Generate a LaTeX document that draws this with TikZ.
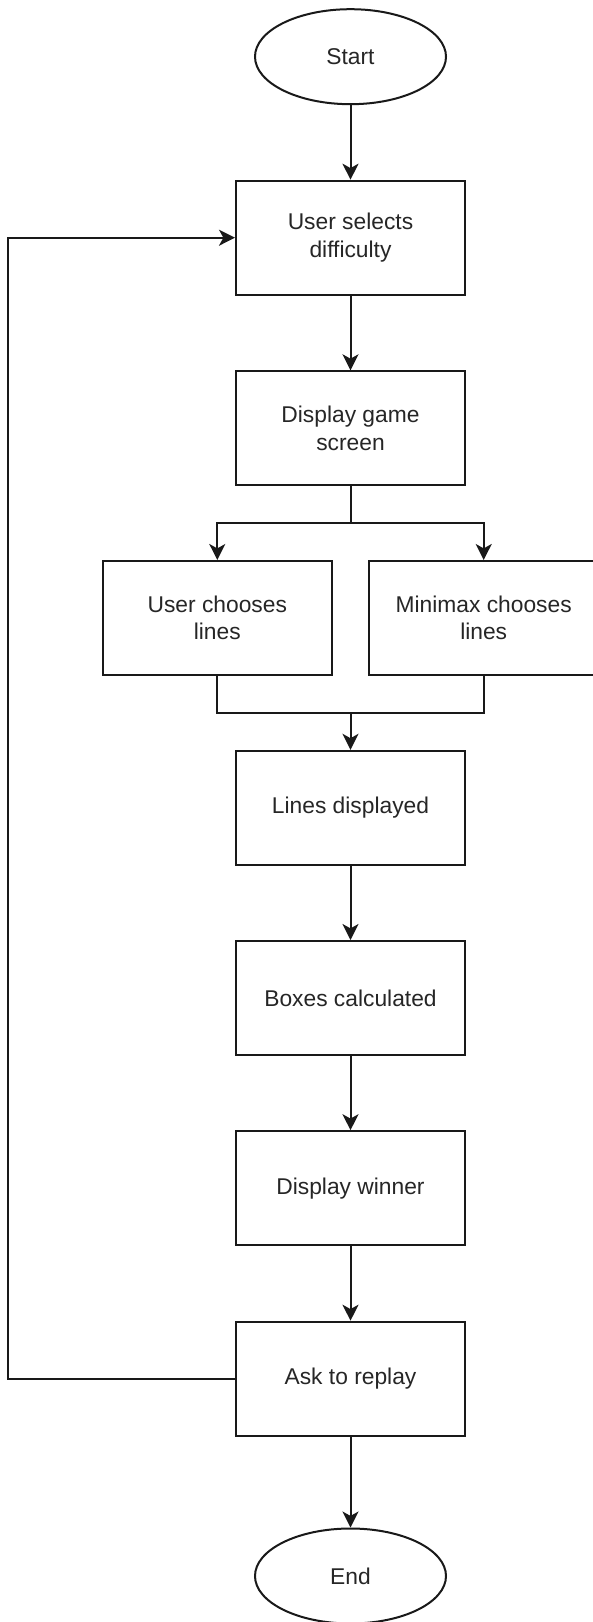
\documentclass[tikz,border=0pt]{standalone}
\usepackage{fontspec}
\setmainfont{Liberation Sans}
\usetikzlibrary{shapes.geometric,arrows.meta}

\begin{document}
\begin{tikzpicture}[x=0.5pt,y=-0.5pt,
  every node/.style={font=\fontsize{11.4}{13.7}\selectfont, text=black!85, align=center},
  procbox/.style={draw=black!90, line width=1pt, minimum width=114.5pt, minimum height=57pt, inner sep=0pt},
  terminal/.style={ellipse, draw=black!90, line width=1pt, minimum width=95.5pt, minimum height=47.5pt, inner sep=0pt},
  flow/.style={draw=black!90, line width=1pt, -{Stealth[length=8pt,width=8pt,inset=2.2pt]}},
  link/.style={draw=black!90, line width=1pt}]

\useasboundingbox (0,0) rectangle (593,1622);

% terminals and process steps
\node[terminal] (start) at (350.5,56.7) {Start};
\node[procbox] (select) at (350.5,237.7) {User selects\\difficulty};
\node[procbox] (screen) at (350.5,428.3) {Display game\\screen};
\node[procbox] (user) at (217.3,618) {User chooses\\lines};
\node[procbox] (minimax) at (483.7,618) {Minimax chooses\\lines};
\node[procbox] (shown) at (350.5,807.8) {Lines displayed};
\node[procbox] (boxes) at (350.5,998) {Boxes calculated};
\node[procbox] (winner) at (350.5,1188.2) {Display winner};
\node[procbox] (replay) at (350.5,1378.7) {Ask to replay};
\node[terminal] (end) at (350.5,1576) {End};

% branch and merge points
\coordinate (split) at (350.5,523);
\coordinate (merge) at (350.5,712.7);
\coordinate (loopbot) at (8.3,1378.7);
\coordinate (looptop) at (8.3,237.7);

% connectors
\draw[flow] (start) -- (select);
\draw[flow] (select) -- (screen);
\draw[link] (screen.south) -- (split);
\draw[flow] (split) -| (user.north);
\draw[flow] (split) -| (minimax.north);
\draw[link] (user.south) |- (merge);
\draw[link] (minimax.south) |- (merge);
\draw[flow] (merge) -- (shown.north);
\draw[flow] (shown) -- (boxes);
\draw[flow] (boxes) -- (winner);
\draw[flow] (winner) -- (replay);
\draw[flow] (replay) -- (end);
\draw[flow] (replay.west) -- (loopbot) -- (looptop) -- (select.west);

\end{tikzpicture}
\end{document}
